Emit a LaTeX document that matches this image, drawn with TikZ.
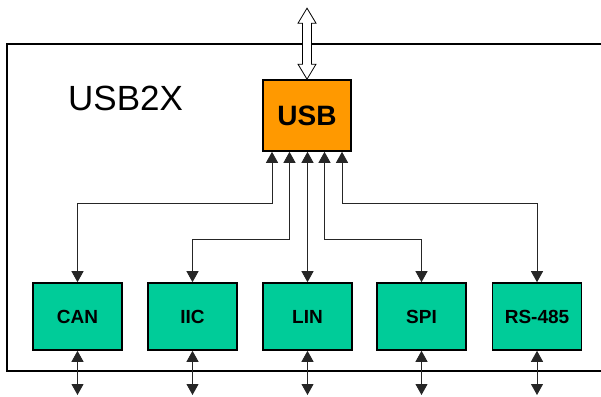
\documentclass[tikz,border=0pt]{standalone}
\usepackage{fontspec}
\setmainfont{Liberation Sans}
\usetikzlibrary{arrows.meta}
\definecolor{usborange}{HTML}{FF9900}
\definecolor{busgreen}{HTML}{00CC99}

\begin{document}
\begin{tikzpicture}[x=1pt, y=1pt,
  usb/.style={rectangle, draw, line width=1.6pt, fill=usborange,
    minimum width=88pt, minimum height=71pt,
    font=\bfseries\fontsize{28}{30}\selectfont},
  blk/.style={rectangle, draw, line width=1.6pt, fill=busgreen,
    minimum width=89pt, minimum height=67pt,
    font=\bfseries\fontsize{19}{22}\selectfont},
  tip/.tip={Triangle[length=11pt,width=12pt]},
  e/.style={line width=0.9pt, draw=black!85, tip-tip}
]
\useasboundingbox (0,0) rectangle (601,396);

% --- outer frame (runs off the right edge) ---
\draw[line width=1.3pt] (601,352) -- (7,352) -- (7,25) -- (601,25);
\node[anchor=base west, inner sep=0, font=\fontsize{35}{40}\selectfont] (title) at (68,285) {USB2X};

% --- converter and bus blocks ---
\node[usb] (usb) at (307,280.5) {USB};

\node[blk] (can) at ( 77.5,79.5) {CAN};
\node[blk] (iic) at (192.5,79.5) {IIC};
\node[blk] (lin) at (307.5,79.5) {LIN};
\node[blk] (spi) at (421.5,79.5) {SPI};
\node[blk] (rs)  at (537,79.5)   {RS-485};

% --- hollow double arrow to the host ---
\draw[line width=0.8pt, fill=white] (usb.north) -- ++(9,15) -- ++(-4.5,0) -- ++(0,41)
  -- ++(4.5,0) -- ++(-9,15) -- ++(-9,-15) -- ++(4.5,0) -- ++(0,-41) -- ++(-4.5,0) -- cycle;

% --- ports under the USB block ---
\coordinate (u1) at ([xshift=-35pt]usb.south);
\coordinate (u2) at ([xshift=-17.5pt]usb.south);
\coordinate (u3) at (usb.south);
\coordinate (u4) at ([xshift=17.5pt]usb.south);
\coordinate (u5) at ([xshift=35pt]usb.south);

% --- internal links ---
\draw[e] (can.north) -- (can.north |- 0,193) -| (u1);
\draw[e] (iic.north) -- (iic.north |- 0,157) -| (u2);
\draw[e] (lin.north |- u3) -- (lin.north);
\draw[e] (spi.north) -- (spi.north |- 0,157) -| (u4);
\draw[e] (rs.north) -- (rs.north |- 0,193) -| (u5);

% --- external lines ---
\coordinate (canx) at (can.south |- 0,1);
\coordinate (iicx) at (iic.south |- 0,1);
\coordinate (linx) at (lin.south |- 0,1);
\coordinate (spix) at (spi.south |- 0,1);
\coordinate (rsx)  at (rs.south |- 0,1);
\draw[e] (can.south) -- (canx);
\draw[e] (iic.south) -- (iicx);
\draw[e] (lin.south) -- (linx);
\draw[e] (spi.south) -- (spix);
\draw[e] (rs.south) -- (rsx);

\end{tikzpicture}
\end{document}
